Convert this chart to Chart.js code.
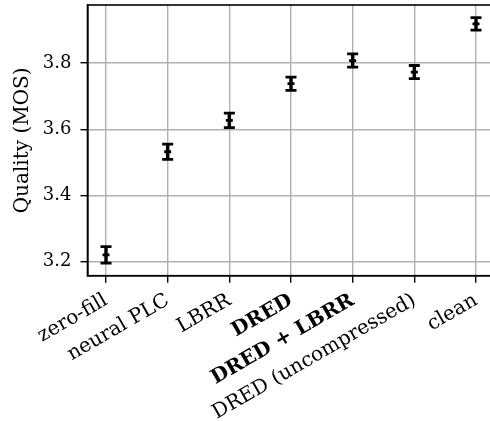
<!DOCTYPE html>
<html>
<head>
<meta charset="utf-8">
<script src="https://cdn.jsdelivr.net/npm/chart.js@4.4.1/dist/chart.umd.min.js"></script>
<style>
html, body { margin: 0; padding: 0; background: #fff; overflow: hidden; }
#wrap { width: 500px; height: 421px; }
</style>
</head>
<body>
<div id="wrap"><canvas id="c" width="500" height="421"></canvas></div>
<script>
const categories = ['zero-fill', 'neural PLC', 'LBRR', 'DRED', 'DRED + LBRR', 'DRED (uncompressed)', 'clean'];
const boldCategories = [false, false, false, true, true, false, false];
const means = [3.220, 3.532, 3.627, 3.738, 3.808, 3.773, 3.919];
const errors = [0.025, 0.023, 0.022, 0.020, 0.020, 0.020, 0.019];
const yTicks = [3.2, 3.4, 3.6, 3.8];

const FONT = 'DejaVu Serif';

const idx = categories.map((_, i) => i);
const barData = idx.map(i => ({ x: i, y: [means[i] - errors[i], means[i] + errors[i]] }));
const lowData = idx.map(i => ({ x: i, y: means[i] - errors[i] }));
const highData = idx.map(i => ({ x: i, y: means[i] + errors[i] }));
const midData = idx.map(i => ({ x: i, y: means[i] }));

const frame = {
  id: 'frame',
  afterDraw(chart) {
    const a = chart.chartArea, ctx = chart.ctx;
    ctx.save();
    ctx.strokeStyle = '#000';
    ctx.lineWidth = 1.6;
    ctx.strokeRect(a.left, a.top, a.right - a.left, a.bottom - a.top);
    ctx.restore();
  }
};

const capStyle = {
  type: 'line', showLine: false, pointStyle: 'line',
  borderColor: '#000', backgroundColor: '#000',
  pointBorderWidth: 2.8, pointHoverBorderWidth: 2.8
};

function noPad(s) { s.paddingTop = 0; s.paddingBottom = 0; s.paddingLeft = 0; s.paddingRight = 0; }

new Chart(document.getElementById('c'), {
  data: {
    datasets: [
      { type: 'bar', data: barData, backgroundColor: '#000', borderWidth: 0, barThickness: 2.8, order: 2 },
      Object.assign({ data: lowData, pointRadius: 5.5, order: 1 }, capStyle),
      Object.assign({ data: highData, pointRadius: 5.5, order: 1 }, capStyle),
      Object.assign({ data: midData, pointRadius: 3.5, order: 1 }, capStyle)
    ]
  },
  options: {
    responsive: false,
    animation: false,
    events: [],
    layout: { autoPadding: false, padding: { left: 0, right: 5.5, top: 5, bottom: 0 } },
    plugins: { legend: { display: false }, tooltip: { enabled: false } },
    scales: {
      x: {
        type: 'linear',
        min: -0.3, max: 6.3,
        offset: false,
        afterBuildTicks: (s) => { s.ticks = idx.map(v => ({ value: v })); },
        afterFit: (s) => { s.height = 145.3; noPad(s); },
        grid: { offset: false, color: '#b0b0b0', lineWidth: 1.4, tickColor: '#000', tickLength: 7, drawTicks: true },
        border: { display: true, color: '#000', width: 1.6 },
        ticks: {
          autoSkip: false,
          minRotation: 30, maxRotation: 30,
          padding: 6,
          color: '#000',
          font: (ctx) => ({ family: FONT, size: 20, weight: boldCategories[ctx.index] ? 'bold' : 'normal' }),
          callback: (v) => categories[v]
        }
      },
      y: {
        type: 'linear',
        min: 3.157, max: 3.976,
        afterBuildTicks: (s) => { s.ticks = yTicks.map(v => ({ value: v })); },
        afterFit: (s) => { s.width = 87.5; noPad(s); },
        grid: { color: '#b0b0b0', lineWidth: 1.4, tickColor: '#000', tickLength: 7 },
        border: { display: true, color: '#000', width: 1.6 },
        ticks: {
          padding: 9,
          color: '#000',
          font: { family: FONT, size: 18 },
          callback: (v) => v.toFixed(1)
        },
        title: {
          display: true, text: 'Quality (MOS)', color: '#000',
          font: { family: FONT, size: 20 },
          padding: { top: 11, bottom: 0 }
        }
      }
    }
  },
  plugins: [frame]
});
</script>
</body>
</html>
